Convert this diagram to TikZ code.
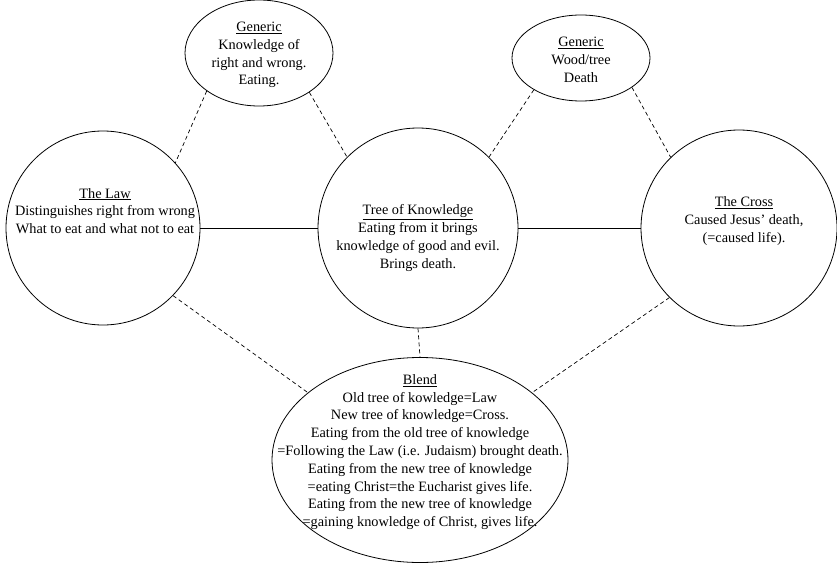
\documentclass[tikz,border=0pt]{standalone}
\usepackage{fontspec}
\setmainfont{Liberation Serif}
\usetikzlibrary{shapes.geometric}
\begin{document}
\begin{tikzpicture}[x=1pt,y=-1pt,
  frame/.style={draw=black,line width=0.8pt,inner sep=0pt},
  roundspace/.style={frame,circle},
  ovalspace/.style={frame,ellipse},
  words/.style={align=center,font=\fontsize{14.3}{17.8}\selectfont,inner sep=0pt},
  mapping/.style={line width=0.7pt,dash pattern=on 4pt off 3pt},
  counterpart/.style={line width=0.8pt}]
\useasboundingbox (0,0) rectangle (837,564);

% mental spaces
\node[ovalspace,minimum width=148pt,minimum height=106pt] (genl) at (259,53) {};
\node[ovalspace,minimum width=138pt,minimum height=86pt] (genr) at (581,58) {};
\node[roundspace,minimum size=194pt] (law) at (103,228) {};
\node[roundspace,minimum size=200pt] (tree) at (418,228) {};
\node[roundspace,minimum size=196pt] (cross) at (739,228) {};
\node[ovalspace,minimum width=296pt,minimum height=205pt] (blend) at (420,460) {};

% contents
\node[words] (genltxt) at (259,55) {\underline{Generic}\\Knowledge of\\right and wrong.\\Eating.};
\node[words] (genrtxt) at (581,60) {\underline{Generic}\\Wood/tree\\Death};
\node[words] (lawtxt) at (105,211) {\underline{The Law}\\Distinguishes right from wrong\\What to eat and what not to eat};
\node[words] (treetxt) at (418,238) {\underline{Tree of Knowledge}\\Eating from it brings\\knowledge of good and evil.\\Brings death.};
\node[words] (crosstxt) at (744,221) {\underline{The Cross}\\Caused Jesus' death,\\(=caused life).};
\node[words] (blendtxt) at (420,452) {\underline{Blend}\\Old tree of kowledge=Law\\New tree of knowledge=Cross.\\Eating from the old tree of knowledge\\=Following the Law (i.e. Judaism) brought death.\\Eating from the new tree of knowledge\\=eating Christ=the Eucharist gives life.\\Eating from the new tree of knowledge\\=gaining knowledge of Christ, gives life.};

% cross-space mappings
\draw[counterpart] (law.east) -- (tree.west);
\draw[counterpart] (tree.east) -- (cross.west);

% projections to generic and blended spaces
\draw[mapping] (genl.216) -- (law.42);
\draw[mapping] (genl.322) -- (tree.135);
\draw[mapping] (genr.214) -- (tree.45);
\draw[mapping] (genr.330) -- (cross.134);
\draw[mapping] (law.316) -- (blend.149);
\draw[mapping] (tree.south) -- (blend.north);
\draw[mapping] (cross.225) -- (blend.31);
\end{tikzpicture}
\end{document}
